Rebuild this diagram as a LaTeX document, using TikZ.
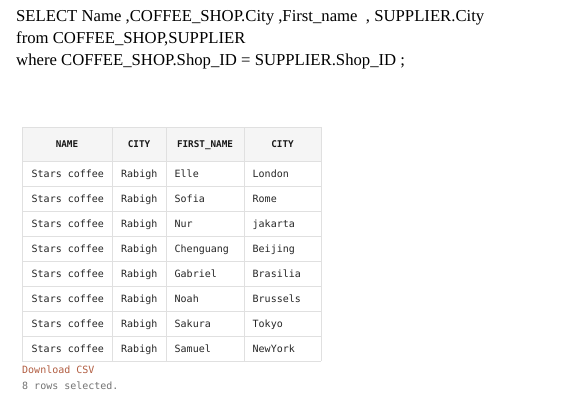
\documentclass[tikz,border=0pt]{standalone}
\usepackage{fontspec}
\setmainfont{Liberation Serif}
\newfontfamily\tabfont{DejaVu Sans Mono}
\begin{document}
\begin{tikzpicture}[x=1pt,y=-1pt,
  sqltext/.style={anchor=base west,inner sep=0pt,font=\fontsize{16.7}{20}\selectfont,text=black},
  cell/.style={anchor=base west,inner sep=0pt,font=\tabfont\fontsize{10}{12}\selectfont,text=black!85},
  headcell/.style={anchor=base,inner sep=0pt,font=\tabfont\bfseries\fontsize{9.3}{12}\selectfont,text=black!90},
  grid/.style={draw=black!12,line width=0.8pt},
  foot/.style={anchor=base west,inner sep=0pt,font=\tabfont\fontsize{10}{12}\selectfont}]
\useasboundingbox[fill=white] (0,0) rectangle (583,405);
\node[sqltext] (l1) at (16,21) {SELECT Name ,COFFEE\_SHOP.City ,First\_name\ \ , SUPPLIER.City};
\node[sqltext] (l2) at (16,43) {from COFFEE\_SHOP,SUPPLIER};
\node[sqltext] (l3) at (16,65.5) {where COFFEE\_SHOP.Shop\_ID = SUPPLIER.Shop\_ID ;};
% header background
\fill[black!4] (22,127) rectangle (321,161);
% grid
\foreach \yy in {161,186,211,236,261,286,311,336,361} \draw[grid] (22,\yy) -- (321,\yy);
\draw[grid] (22,127) -- (321,127);
\foreach \xx in {22,112,166,244,321} \draw[grid] (\xx,127) -- (\xx,361);
% header
\node[headcell] (h1) at (67,147.5) {NAME};
\node[headcell] (h2) at (139,147.5) {CITY};
\node[headcell] (h3) at (205,147.5) {FIRST\_NAME};
\node[headcell] (h4) at (282.5,147.5) {CITY};
% rows
\foreach \n/\f/\c [count=\i from 0] in {Elle/London, Sofia/Rome, Nur/jakarta, Chenguang/Beijing, Gabriel/Brasilia, Noah/Brussels, Sakura/Tokyo, Samuel/NewYork}{
  \pgfmathsetmacro{\yc}{177+25*\i}
  \node[cell] (a\i) at (31.5,\yc) {Stars coffee};
  \node[cell] (b\i) at (121,\yc) {Rabigh};
  \node[cell] (c\i) at (174.5,\yc) {\n};
  \node[cell] (d\i) at (252.5,\yc) {\f};
}
\node[foot,text={rgb,255:red,178;green,94;blue,66}] (dl) at (22,373.5) {Download CSV};
\node[foot,text=black!55] (rs) at (22,389.5) {8 rows selected.};
\end{tikzpicture}
\end{document}
